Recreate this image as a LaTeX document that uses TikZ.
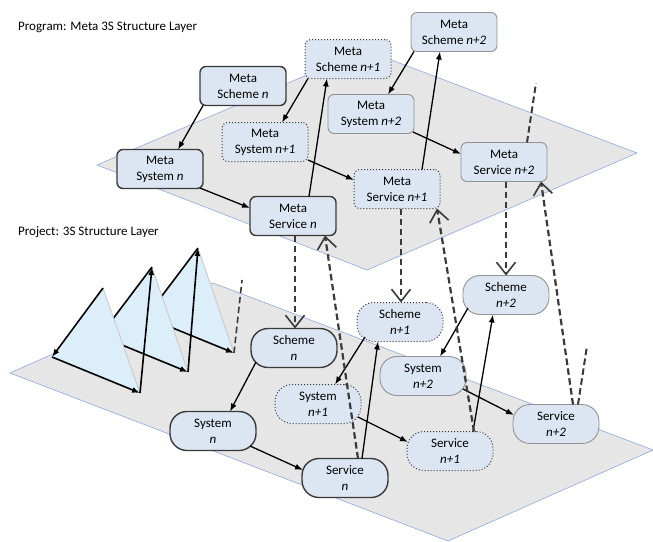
\documentclass[tikz,border=0pt]{standalone}
\usepackage{fontspec}
\setmainfont{Carlito}
\usetikzlibrary{arrows.meta,calc}
\definecolor{planefill}{HTML}{E6E6E6}
\definecolor{planeedge}{HTML}{8EA9DB}
\definecolor{nodefill}{HTML}{DCE6F2}
\definecolor{trifill}{HTML}{DDEEFB}
\definecolor{dk}{HTML}{3A3A3A}
\begin{document}
\begin{tikzpicture}[x=1pt,y=-1pt,
  font=\fontsize{13}{16}\selectfont,
  basebox/.style={fill=nodefill, minimum width=86pt, minimum height=39pt, inner sep=0pt, align=center},
  metabox/.style={basebox, rounded corners=6pt},
  projbox/.style={basebox, rounded corners=17pt},
  genzero/.style={draw=dk, line width=1.4pt},
  genone/.style={draw=dk, line width=1pt, dotted},
  gentwo/.style={draw=gray!85, line width=0.9pt},
  link/.style={draw=black, line width=1.3pt, -{Latex[length=8pt,width=6pt]}},
  vlink/.style={draw=dk, line width=2.2pt, dash pattern=on 6.5pt off 3.5pt, -{Straight Barb[length=12pt,width=19pt,line width=1.6pt]}},
  vfree/.style={draw=dk, line width=2pt, dash pattern=on 6.5pt off 3.5pt},
  planestyle/.style={fill=planefill, draw=planeedge, line width=0.6pt},
  tristyle/.style={fill=trifill},
  triedge/.style={draw=gray!45, line width=0.8pt},
  trilink/.style={link, line width=1.6pt}
]
\useasboundingbox (0,0) rectangle (653,541);

% planes
\path[planestyle] (97,165) -- (365,50) -- (637,153) -- (367,270) -- cycle;
\path[planestyle] (10,373) -- (213,283) -- (653,450) -- (448,541) -- cycle;

% headers
\node[anchor=west, inner sep=0pt] (hprog) at (18,27) {Program: Meta 3S Structure Layer};
\node[anchor=west, inner sep=0pt] (hproj) at (18,232) {Project: 3S Structure Layer};

% triangles
\coordinate (a3) at (198,248); \coordinate (l3) at (146,317); \coordinate (r3) at (234,353);
\coordinate (a2) at (152,267); \coordinate (l2) at (100,336); \coordinate (r2) at (188,372);
\coordinate (a1) at (103,288); \coordinate (l1) at (52,357);  \coordinate (r1) at (140,393);
\coordinate (tfree) at (242,280);

\path[tristyle] (a3) -- (l3) -- (r3) -- cycle;
\draw[triedge] (a3) -- (r3);
\draw[trilink] (a3) -- (l3);
\draw[trilink] (l3) -- (r3);
\path[tristyle] (a2) -- (l2) -- (r2) -- cycle;
\draw[triedge] (a2) -- (r2);
\draw[trilink] (a2) -- (l2);
\draw[trilink] (l2) -- (r2);
\path[tristyle] (a1) -- (l1) -- (r1) -- cycle;
\draw[triedge] (a1) -- (r1);
\draw[trilink] (a1) -- (l1);
\draw[trilink] (l1) -- (r1);
\draw[trilink] (r1) -- (a2);
\draw[trilink] (r2) -- (a3);
\draw[vfree, line width=1.6pt] (r3) -- (tfree);

% top layer nodes
\node[metabox,genzero] (msc0) at (243,86)  {Meta\\Scheme \textit{n}};
\node[metabox,genzero] (msy0) at (160,169) {Meta\\System \textit{n}};
\node[metabox,genzero] (msv0) at (293,216) {Meta\\Service \textit{n}};
\node[metabox,genone]  (msc1) at (348,59)  {Meta\\Scheme \textit{n+1}};
\node[metabox,genone]  (msy1) at (265,142) {Meta\\System \textit{n+1}};
\node[metabox,genone]  (msv1) at (397,189) {Meta\\Service \textit{n+1}};
\node[metabox,gentwo]  (msc2) at (454,32)  {Meta\\Scheme \textit{n+2}};
\node[metabox,gentwo]  (msy2) at (371,114) {Meta\\System \textit{n+2}};
\node[metabox,gentwo]  (msv2) at (504,162) {Meta\\Service \textit{n+2}};

% bottom layer nodes
\node[projbox,genzero] (sc0) at (294,348) {Scheme\\\textit{n}};
\node[projbox,genzero] (sy0) at (213,431) {System\\\textit{n}};
\node[projbox,genzero] (sv0) at (345,478) {Service\\\textit{n}};
\node[projbox,genone]  (sc1) at (400,322) {Scheme\\\textit{n+1}};
\node[projbox,genone]  (sy1) at (318,404) {System\\\textit{n+1}};
\node[projbox,genone]  (sv1) at (450,451) {Service\\\textit{n+1}};
\node[projbox,gentwo]  (sc2) at (506,295) {Scheme\\\textit{n+2}};
\node[projbox,gentwo]  (sy2) at (423,376) {System\\\textit{n+2}};
\node[projbox,gentwo]  (sv2) at (556,424) {Service\\\textit{n+2}};

\coordinate (mfree) at (536,83);
\coordinate (pfree) at (587,346);

% top layer links
\draw[link] ($(msc0)+(-40,19.5)$) -- ($(msy0)+(18,-19.5)$);
\draw[link] ($(msy0)+(40,19)$) -- ($(msv0)+(-43,-8)$);
\draw[link] ($(msv0)+(16,-19.5)$) -- ($(msc1)+(-21,19.5)$);
\draw[link] ($(msc1)+(-40,19.5)$) -- ($(msy1)+(17,-19.5)$);
\draw[link] ($(msy1)+(43,18)$) -- ($(msv1)+(-43,-9)$);
\draw[link] ($(msv1)+(25,-19.5)$) -- ($(msc2)+(-14,19.5)$);
\draw[link] ($(msc2)+(-40,19.5)$) -- ($(msy2)+(17,-19.5)$);
\draw[link] ($(msy2)+(42,18)$) -- ($(msv2)+(-43,-8)$);
\draw[vfree] ($(msv2)+(23,-19.5)$) -- (mfree);

% bottom layer links
\draw[link] ($(sc0)+(-38,14)$) -- ($(sy0)+(17,-19.5)$);
\draw[link] ($(sy0)+(37,15)$) -- ($(sv0)+(-42,-8)$);
\draw[link] ($(sv0)+(17,-19.5)$) -- ($(sc1)+(-22,19.5)$);
\draw[link] ($(sc1)+(-35,15)$) -- ($(sy1)+(17,-19.5)$);
\draw[link] ($(sy1)+(40,13)$) -- ($(sv1)+(-42,-9)$);
\draw[link] ($(sv1)+(23,-19.5)$) -- ($(sc2)+(-13,19.5)$);
\draw[link] ($(sc2)+(-38,13)$) -- ($(sy2)+(17,-19.5)$);
\draw[link] ($(sy2)+(40,13)$) -- ($(sv2)+(-42,-9)$);

% inter-layer links
\draw[vlink] ($(msv0)+(2,19.5)$) -- ($(sc0)+(1,-19.5)$);
\draw[vlink] ($(sv0)+(13,-19.5)$) -- ($(msv0)+(32,19.5)$);
\draw[vlink] ($(msv1)+(4,19.5)$) -- ($(sc1)+(1,-19.5)$);
\draw[vlink] ($(sv1)+(24,-19.5)$) -- ($(msv1)+(40,19.5)$);
\draw[vlink] ($(msv2)+(2,19.5)$) -- ($(sc2)+(0,-19.5)$);
\draw[vlink] ($(sv2)+(17,-19.5)$) -- ($(msv2)+(37,19.5)$);
\draw[vfree] ($(sv2)+(22,-19.5)$) -- (pfree);
\end{tikzpicture}
\end{document}
